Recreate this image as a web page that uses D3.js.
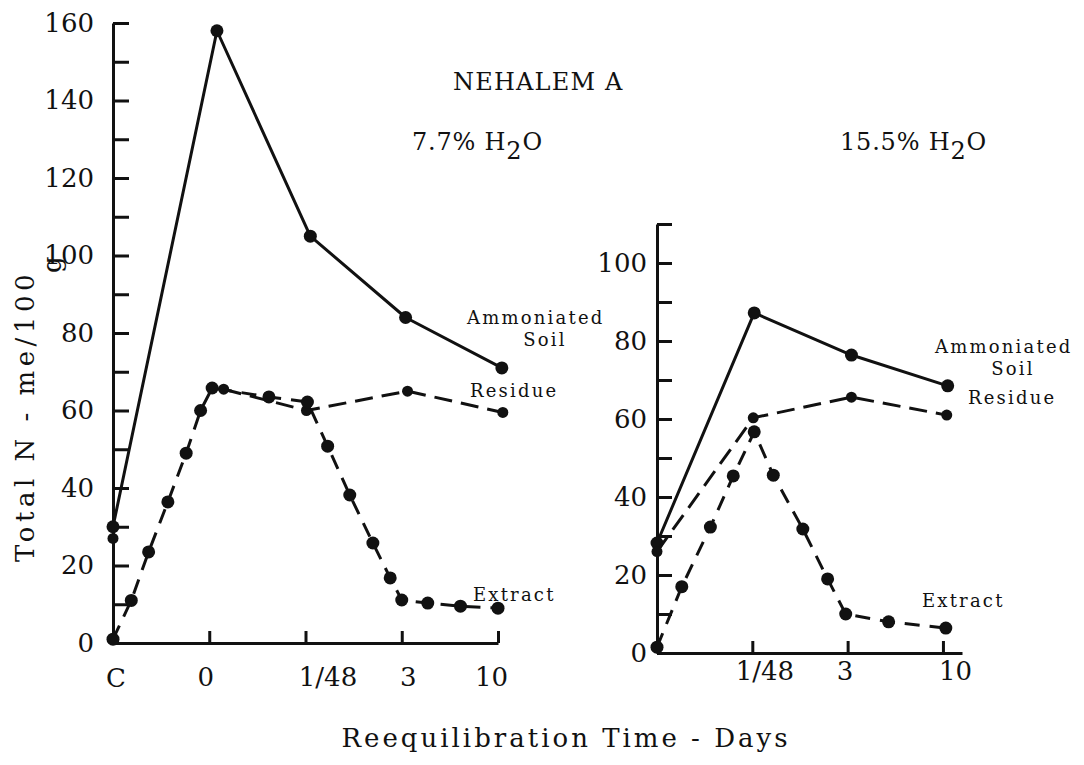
<!DOCTYPE html>
<html>
<head>
<meta charset="utf-8">
<script src="https://cdn.jsdelivr.net/npm/d3@7"></script>
<style>
  html, body { margin: 0; padding: 0; background: #fff; }
  svg { display: block; }
  text { font-family: "DejaVu Serif", "Liberation Serif", serif; fill: #111; }
</style>
</head>
<body>
<script>
// ---------------- Data ----------------
// x positions are in tick-slot units: left panel C=0, 0=1, 1/48=2, 3=3, 10=4
const leftTickPos = [0, 1, 2, 3, 4];
const leftTickLabels = ["C", "0", "1/48", "3", "10"];
// right panel: origin=0, 1/48=1, 3=2, 10=3
const rightTickPos = [1, 2, 3];
const rightTickLabels = ["1/48", "3", "10"];

const leftYTicks = d3.range(0, 161, 10);
const rightYTicks = d3.range(0, 111, 10);

// Left panel: 7.7% H2O
const leftAmmoniaX = [0, 1.08, 2.05, 3.04, 4.04];
const leftAmmoniaY = [30, 158, 105, 84, 71];
const leftResidueX = [0, 1.15, 2.01, 3.06, 4.05];
const leftResidueY = [27, 65.5, 60, 65, 59.5];
const leftExtractX = [0, 0.19, 0.37, 0.57, 0.76, 0.91, 1.03, 1.62, 2.02, 2.23, 2.46, 2.70, 2.88, 3.0, 3.27, 3.61, 4.0];
const leftExtractY = [1, 11, 23.5, 36.4, 49, 60, 65.8, 63.5, 62.2, 50.8, 38.2, 25.8, 16.8, 11.1, 10.3, 9.5, 9.0];

// Right panel: 15.5% H2O
const rightAmmoniaX = [0, 1.02, 2.04, 3.05];
const rightAmmoniaY = [28.2, 87.2, 76.4, 68.5];
const rightResidueX = [0, 1.01, 2.04, 3.04];
const rightResidueY = [26, 60.3, 65.6, 61];
const rightExtractX = [0, 0.26, 0.56, 0.80, 1.02, 1.22, 1.53, 1.79, 1.98, 2.43, 3.03];
const rightExtractY = [1.5, 17, 32.3, 45.4, 56.7, 45.6, 31.8, 19, 10, 8, 6.4];

// ---------------- Drawing ----------------
const W = 1084, H = 765;
const svg = d3.select("body").append("svg").attr("width", W).attr("height", H);
svg.append("rect").attr("width", W).attr("height", H).attr("fill", "#fff");

const ink = "#111";
const zip = (xs, ys) => xs.map((x, i) => ({ x, y: ys[i] }));

function styleAxis(g, fontSize) {
  g.select(".domain").attr("stroke", ink).attr("stroke-width", 3);
  g.selectAll(".tick line").attr("stroke", ink).attr("stroke-width", 3);
  g.selectAll(".tick text")
    .attr("fill", ink)
    .style("font-family", '"DejaVu Serif", serif')
    .style("font-size", fontSize + "px");
  g.attr("font-family", null).attr("font-size", null);
}

function drawPanel(cfg) {
  const x = d3.scaleLinear().domain(cfg.xDomain).range(cfg.xRange);
  const y = d3.scaleLinear().domain(cfg.yDomain).range(cfg.yRange);

  // y axis
  const gy = svg.append("g").attr("transform", `translate(${cfg.xRange[0]},0)`)
    .call(d3.axisLeft(y).tickValues(cfg.yTicks).tickSizeInner(-cfg.yTickLen).tickSizeOuter(0)
      .tickPadding(cfg.yPad).tickFormat(d => d % 20 === 0 ? d : ""));
  styleAxis(gy, 26);

  // x axis
  const gx = svg.append("g").attr("transform", `translate(0,${cfg.yRange[0]})`)
    .call(d3.axisBottom(x).tickValues(cfg.xTicks).tickSizeInner(-12).tickSizeOuter(0)
      .tickPadding(cfg.xPad).tickFormat((d, i) => cfg.xLabels[i]));
  styleAxis(gx, 26);
  gx.selectAll(".tick text").attr("dx", (d, i) => cfg.xLabelDx[i]);
  if (cfg.originLabel) {
    svg.append("text").attr("x", x(0) + 3).attr("y", cfg.yRange[0] + cfg.xPad + 18.5)
      .attr("text-anchor", "middle").style("font-size", "26px").text(cfg.originLabel);
  }

  const line = d3.line().x(d => x(d.x)).y(d => y(d.y));

  cfg.series.forEach(s => {
    const pts = zip(s.xs, s.ys);
    const linePts = pts.slice(s.lineFrom || 0);
    svg.append("path").datum(linePts)
      .attr("d", line).attr("fill", "none").attr("stroke", ink)
      .attr("stroke-width", 3).attr("stroke-linejoin", "round")
      .attr("stroke-dasharray", s.dash || null);
    svg.append("g").selectAll("circle").data(pts).join("circle")
      .attr("cx", d => x(d.x)).attr("cy", d => y(d.y)).attr("r", s.r).attr("fill", ink);
  });
}

drawPanel({
  xDomain: [0, 4], xRange: [113, 498],
  yDomain: [0, 160], yRange: [643, 23],
  yTicks: leftYTicks, yTickLen: 16, yPad: 19,
  xTicks: leftTickPos.slice(1), xLabels: leftTickLabels.slice(1),
  xLabelDx: [-4, 22, 6, -7], xPad: 25,
  originLabel: leftTickLabels[0],
  series: [
    { xs: leftAmmoniaX, ys: leftAmmoniaY, r: 6.5 },
    { xs: leftResidueX, ys: leftResidueY, r: 5.5, dash: "18,9", lineFrom: 1 },
    { xs: leftExtractX, ys: leftExtractY, r: 6.5, dash: "15,10" }
  ]
});

drawPanel({
  xDomain: [0, 3.2], xRange: [657, 962],
  yDomain: [0, 110], yRange: [653, 224],
  yTicks: rightYTicks, yTickLen: 15, yPad: 10,
  xTicks: rightTickPos, xLabels: rightTickLabels,
  xLabelDx: [12, -3, 12], xPad: 9,
  originLabel: null,
  series: [
    { xs: rightAmmoniaX, ys: rightAmmoniaY, r: 6.5 },
    { xs: rightResidueX, ys: rightResidueY, r: 5.5, dash: "18,9" },
    { xs: rightExtractX, ys: rightExtractY, r: 6.5, dash: "15,10" }
  ]
});

// ---------------- Titles & labels ----------------
svg.append("text").attr("x", 453).attr("y", 90)
  .style("font-size", "24px").style("letter-spacing", "1.2px").text("NEHALEM A");

function h2o(xPos, prefix) {
  const t = svg.append("text").attr("x", xPos).attr("y", 150)
    .style("font-size", "24px").style("letter-spacing", "0.8px");
  t.append("tspan").text(prefix + " H");
  t.append("tspan").attr("dy", 9).text("2");
  t.append("tspan").attr("dy", -9).text("O");
}
h2o(412, "7.7%");
h2o(840, "15.5%");

// series labels
const lab = (x, y, txt, anchor) => svg.append("text").attr("x", x).attr("y", y)
  .attr("text-anchor", anchor || "start").style("font-size", "18px")
  .style("letter-spacing", "2.2px").text(txt);
lab(467, 324, "Ammoniated");
lab(545, 346, "Soil", "middle");
lab(470, 397, "Residue");
lab(473, 601, "Extract");

lab(935, 353, "Ammoniated");
lab(1013, 375, "Soil", "middle");
lab(968, 404, "Residue");
lab(922, 607, "Extract");

// axis titles
svg.append("text").attr("x", 566).attr("y", 747).attr("text-anchor", "middle")
  .style("font-size", "26px").style("letter-spacing", "3px").text("Reequilibration Time - Days");

const yl = svg.append("text").attr("transform", "translate(34,562) rotate(-90)")
  .style("font-size", "26px").style("letter-spacing", "4.5px");
yl.append("tspan").text("Total N - me/100");
yl.append("tspan").attr("dy", 27).attr("dx", -3).text("g");
</script>
</body>
</html>
